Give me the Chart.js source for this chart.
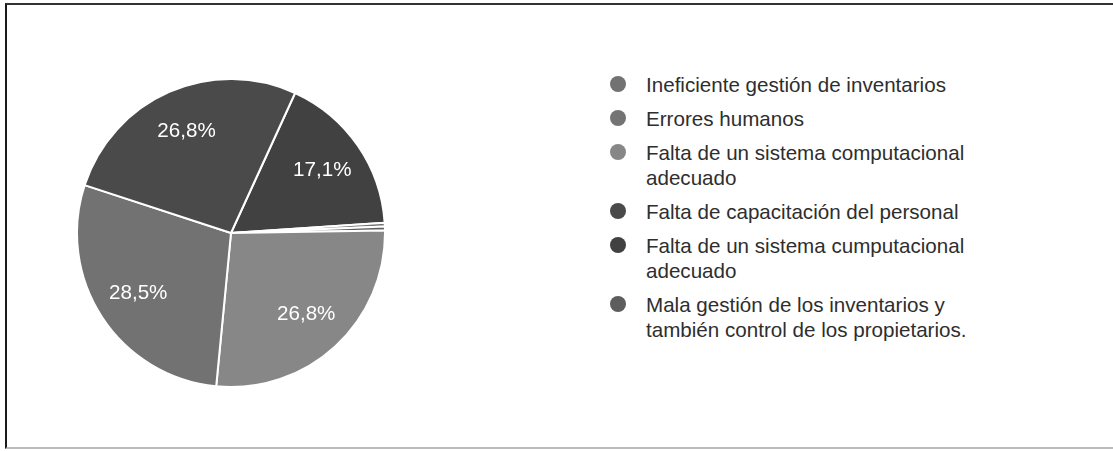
<!DOCTYPE html>
<html>
<head>
<meta charset="utf-8">
<script src="https://cdn.jsdelivr.net/npm/chart.js@4/dist/chart.umd.min.js"></script>
<style>
  html, body { margin: 0; padding: 0; background: #fff; }
  body { width: 1113px; height: 451px; position: relative; overflow: hidden; font-family: "Liberation Sans", Arial, sans-serif; }
  #frame {
    position: absolute; left: 5px; top: 3px; width: 1108px; height: 446px;
    border-top: 2px solid #333; border-left: 2px solid #1a1a1a; border-bottom: 2px solid #bbb;
    box-sizing: border-box;
  }
  #pieBox { position: absolute; left: 76px; top: 78px; width: 310px; height: 310px; }
  #legend { position: absolute; left: 610px; top: 72px; width: 372px; }
  .item { display: flex; align-items: flex-start; margin-bottom: 9px; }
  .dot { width: 16px; height: 16px; border-radius: 50%; flex: none; margin-top: 4px; margin-right: 20px; }
  .txt { font-size: 20.6px; line-height: 25px; color: #2e2e2e; width: 334px; }
</style>
</head>
<body>
<div id="frame"></div>
<div id="pieBox"><canvas id="pieChart"></canvas></div>
<div id="legend"></div>
<script>
// categorías en el orden de la leyenda
const labels = [
    'Ineficiente gestión de inventarios',
    'Errores humanos',
    'Falta de un sistema computacional adecuado',
    'Falta de capacitación del personal',
    'Falta de un sistema cumputacional adecuado',
    'Mala gestión de los inventarios y también control de los propietarios.'
];
const values = [28.5, 0.4, 26.8, 26.8, 17.1, 0.4]; // porcentajes
const colors = ['#727272', '#747474', '#878787', '#4a4a4a', '#414141', '#5d5d5d'];
// orden en que se dibujan las porciones (sentido horario)
const sliceOrder = [4, 1, 5, 2, 0, 3];

document.addEventListener('DOMContentLoaded', () => {
    // leyenda
    const legendDiv = document.getElementById('legend');
    labels.forEach((label, i) => {
        const item = document.createElement('div');
        item.className = 'item';
        item.innerHTML = `<span class="dot" style="background:${colors[i]}"></span><span class="txt">${label}</span>`;
        legendDiv.appendChild(item);
    });

    // etiquetas de porcentaje dentro de las porciones
    const sliceLabels = {
        id: 'sliceLabels',
        afterDatasetsDraw(chart) {
            const ctx = chart.ctx;
            const meta = chart.getDatasetMeta(0);
            const data = chart.data.datasets[0].data;
            ctx.save();
            ctx.fillStyle = '#fff';
            ctx.font = '20.6px "Liberation Sans", Arial, sans-serif';
            ctx.textAlign = 'center';
            ctx.textBaseline = 'middle';
            meta.data.forEach((arc, i) => {
                if (data[i] < 5) return;
                const p = arc.getProps(['x', 'y', 'startAngle', 'endAngle', 'outerRadius'], true);
                const mid = (p.startAngle + p.endAngle) / 2;
                const r = p.outerRadius * 0.72;
                const text = data[i].toFixed(1).replace('.', ',') + '%';
                ctx.fillText(text, p.x + Math.cos(mid) * r, p.y + Math.sin(mid) * r);
            });
            ctx.restore();
        }
    };

    const ctx = document.getElementById('pieChart').getContext('2d');
    new Chart(ctx, {
        type: 'pie',
        data: {
            labels: sliceOrder.map(i => labels[i]),
            datasets: [{
                data: sliceOrder.map(i => values[i]),
                backgroundColor: sliceOrder.map(i => colors[i]),
                borderColor: '#ffffff',
                borderWidth: 2,
            }],
        },
        options: {
            responsive: true,
            maintainAspectRatio: false,
            animation: false,
            rotation: 24.6,
            layout: { padding: 0 },
            plugins: {
                legend: { display: false },
                tooltip: { enabled: false },
            },
        },
        plugins: [sliceLabels],
    });
});
</script>
</body>
</html>
